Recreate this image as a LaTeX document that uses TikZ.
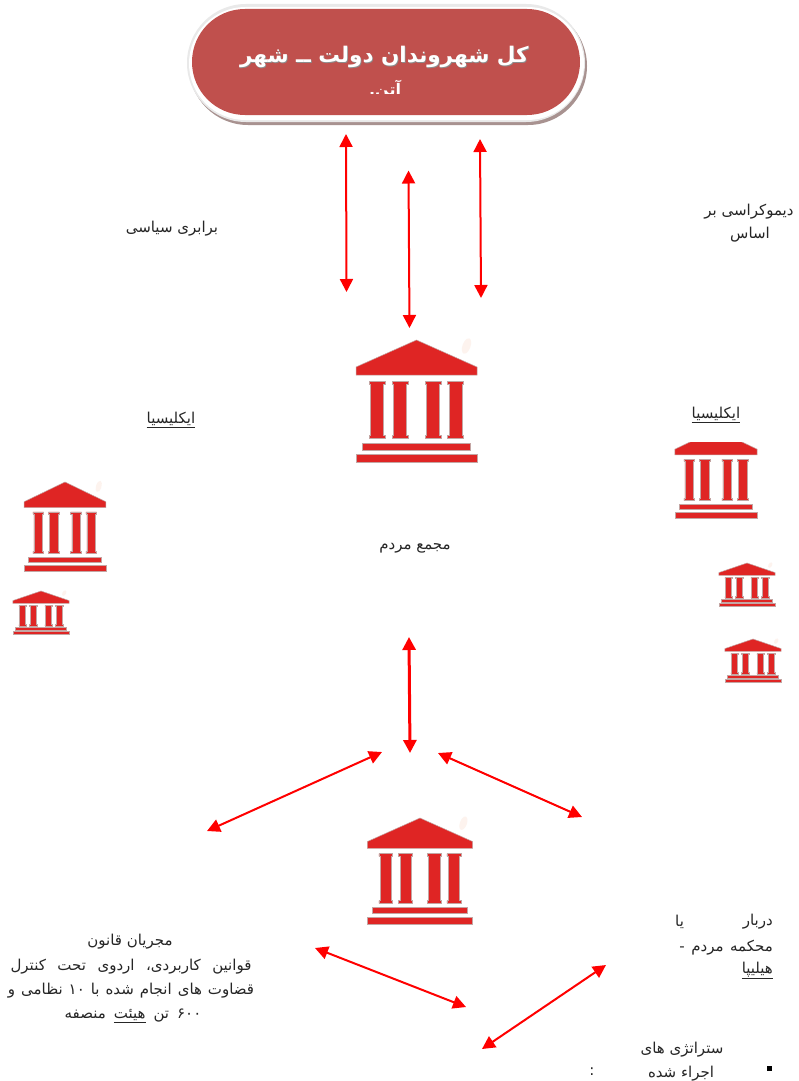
\documentclass[tikz,border=0pt]{standalone}
\usepackage{fontspec}
\usetikzlibrary{arrows.meta,shapes.misc}
\TeXXeTstate=1
\newfontfamily\fa[Script=Arabic]{DejaVu Sans}
\definecolor{pillred}{HTML}{C0504D}
\definecolor{templered}{HTML}{DF2524}
\definecolor{templeedge}{HTML}{C4A6A4}
\definecolor{smudge}{HTML}{FDF3EE}
\definecolor{arrowred}{HTML}{FF0000}
\definecolor{pillshadow}{HTML}{A89290}
\definecolor{pillrim}{HTML}{E9E9E9}
\newcommand\ulbox[1]{\vtop{\hbox{\beginR#1\endR}\kern.8pt\hrule height .6pt}}
\tikzset{
  x=1pt,y=-1pt,
  pillshape/.style={rounded rectangle,draw=none,inner sep=0pt},
  label/.style={inner sep=0pt,text=black!85,font=\fa\fontsize{15}{17}\selectfont},
  biarrow/.style={{Triangle[width=13pt,length=13pt]}-{Triangle[width=13pt,length=13pt]},arrowred,line width=2pt},
  tpart/.style={fill=templered,draw=templeedge,line width=.5pt},
  temple/.pic={
    \fill[smudge,rotate around={-20:(50,6)}] (50,6) ellipse [x radius=4,y radius=8];
    \path[tpart] (0,0) -- (60.5,27) -- (60.5,35) -- (-60.5,35) -- (-60.5,27) -- cycle;
    \foreach \c in {-39.5,-16.5,16.5,39} {
      \path[tpart] (\c-8,41) -- (\c+8,41) -- (\c+8,44) -- (\c+6.5,44) -- (\c+6.5,95) -- (\c+8,95) -- (\c+8,98) -- (\c-8,98) -- (\c-8,95) -- (\c-6.5,95) -- (\c-6.5,44) -- (\c-8,44) -- cycle;
    }
    \path[tpart] (-54.5,103) rectangle (54,110);
    \path[tpart] (-60.5,114) rectangle (60.5,122);
  }
}
\begin{document}
\begin{tikzpicture}
\useasboundingbox (0,0) rectangle (798,1081);
\fill[white] (0,0) rectangle (798,1081);

% title pill
\node[pillshape,fill=pillshadow,minimum width=398pt,minimum height=118pt] (pillshadow) at (388,66) {};
\node[pillshape,fill=pillrim,minimum width=398pt,minimum height=118pt] (pillrim) at (386,63) {};
\node[pillshape,fill=white,minimum width=395pt,minimum height=113pt] (pillwhite) at (386.5,63.5) {};
\node[pillshape,fill=pillred,minimum width=388pt,minimum height=106pt] (pill) at (386,62) {};
\node[inner sep=0pt,text=black!45,font=\fa\bfseries\fontsize{21.5}{24}\selectfont] (titleshade) at (385,57.8) {\beginR کل شهروندان دولت ــ شهر\endR};
\node[inner sep=0pt,text=white,font=\fa\bfseries\fontsize{21.5}{24}\selectfont] (title) at (384.3,57) {\beginR کل شهروندان دولت ــ شهر\endR};
\begin{scope}
  \clip (360,78) rectangle (410,93);
  \node[inner sep=0pt,text=white,font=\fa\bfseries\fontsize{16}{18}\selectfont,anchor=base] (titletwo) at (385,95) {\beginR آتن.\endR};
\end{scope}

% temples
\pic[xscale=1,yscale=1] at (416.5,340) {temple};
\pic[xscale=.868,yscale=.87] at (420,818) {temple};
\pic[xscale=.675,yscale=.73] at (65,482) {temple};
\pic[xscale=.465,yscale=.355] at (41,591) {temple};
\pic[xscale=.465,yscale=.355] at (747,563) {temple};
\pic[xscale=.465,yscale=.355] at (753,639) {temple};
\begin{scope}
  \clip (660,442) rectangle (780,525);
  \pic[xscale=.678,yscale=.724] at (716,429.6) {temple};
\end{scope}

% arrows
\coordinate (a1s) at (346,134); \coordinate (a1e) at (346.5,292);
\coordinate (a2s) at (408.5,170.5); \coordinate (a2e) at (409.5,328);
\coordinate (a3s) at (480,139); \coordinate (a3e) at (481,298);
\coordinate (a4s) at (409,637); \coordinate (a4e) at (410,753);
\coordinate (a5s) at (382,752); \coordinate (a5e) at (207,831);
\coordinate (a6s) at (438,753); \coordinate (a6e) at (582,817);
\coordinate (a7s) at (315,948); \coordinate (a7e) at (466,1007);
\coordinate (a8s) at (606,965); \coordinate (a8e) at (482,1049);
\draw[biarrow] (a1s) -- (a1e);
\draw[biarrow] (a2s) -- (a2e);
\draw[biarrow] (a3s) -- (a3e);
\draw[biarrow,line width=3pt] (a4s) -- (a4e);
\draw[biarrow] (a5s) -- (a5e);
\draw[biarrow] (a6s) -- (a6e);
\draw[biarrow] (a7s) -- (a7e);
\draw[biarrow] (a8s) -- (a8e);

% labels
\node[label] (t1) at (172,229) {\beginR برابری سیاسی\endR};
\node[label] (t2a) at (749,212) {\beginR دیموکراسی بر\endR};
\node[label] (t2b) at (750,235) {\beginR اساس\endR};
\node[label] (t3) at (171,420) {\ulbox{ایکلیسیا}};
\node[label] (t4) at (716,415) {\ulbox{ایکلیسیا}};
\node[label] (t5) at (415,548) {\beginR مجمع مردم\endR};
\node[label] (t6a) at (130,942) {\beginR مجریان قانون\endR};
\node[label] (t6b) at (131,967) {\spaceskip=11.5pt\relax\beginR قوانین کاربردی، اردوی تحت کنترل\endR};
\node[label] (t6c) at (131,991) {\spaceskip=6pt\relax\beginR قضاوت های انجام شده با ۱۰ نظامی و\endR};
\node[label] (t6d) at (133,1016) {\spaceskip=8pt\relax\beginR ۶۰۰ تن \ulbox{هیئت} منصفه\endR};
\node[label,anchor=east] (t7a) at (773,922) {\beginR دربار\endR};
\node[label,anchor=west] (t7b) at (675,922) {\beginR یا\endR};
\node[label,anchor=east] (t7c) at (773,948) {\spaceskip=6.5pt\relax\beginR محکمه مردم -\endR};
\node[label,anchor=east] (t7d) at (773,970) {\ulbox{هیلیپا}};
\node[label] (t8a) at (682,1050) {\beginR ستراتژی های\endR};
\node[label] (t8b) at (681,1074) {\beginR اجراء شده\endR};
\node[label] (t8c) at (592,1072) {:};
\node[fill=black,inner sep=0pt,minimum width=5pt,minimum height=5pt] (bullet) at (769,1068) {};
\end{tikzpicture}
\end{document}
